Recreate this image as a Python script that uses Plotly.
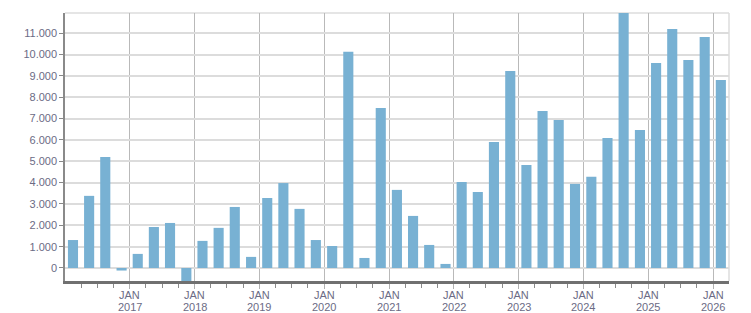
import plotly.graph_objects as go
import pandas as pd

quarters = pd.period_range("2016Q1", "2026Q1", freq="Q")
# bars sit at the middle of each quarter
bar_dates = [(q.start_time + (q.end_time - q.start_time) / 2).strftime("%Y-%m-%d") for q in quarters]

values = [
    1310, 3380, 5200, -120,
    660, 1920, 2110, -700,
    1270, 1880, 2860, 520,
    3280, 3980, 2770, 1310,
    1030, 10130, 470, 7500,
    3660, 2440, 1080, 190,
    4030, 3560, 5910, 9230,
    4830, 7360, 6940, 3940,
    4270, 6090, 12000, 6470,
    9610, 11200, 9750, 10830,
    8810,
]

years = list(range(2017, 2027))
year_ticks = [f"{y}-01-01" for y in years]
quarter_ticks = [q.start_time.strftime("%Y-%m-%d") for q in pd.period_range("2016Q2", "2026Q1", freq="Q")]
y_ticks = list(range(0, 12000, 1000))

fig = go.Figure(go.Bar(
    x=bar_dates, y=values,
    width=57 * 86400000,
    marker=dict(color="#78b1d3", line=dict(width=0)),
))

font_color = "#6b6b85"
annotations = []
for y, d in zip(years, year_ticks):
    annotations.append(dict(x=d, xref="x", y=0, yref="paper", text="JAN", showarrow=False,
                            xanchor="center", yanchor="middle", yshift=-14,
                            font=dict(size=11, color=font_color)))
    annotations.append(dict(x=d, xref="x", y=0, yref="paper", text=str(y), showarrow=False,
                            xanchor="center", yanchor="middle", yshift=-26,
                            font=dict(size=11, color=font_color)))

fig.update_layout(
    width=751, height=313,
    margin=dict(l=65, r=22, t=13, b=32, autoexpand=False),
    paper_bgcolor="white", plot_bgcolor="white",
    separators=",.",
    showlegend=False,
    font=dict(family="Liberation Sans, Arial, sans-serif", size=11, color=font_color),
    annotations=annotations,
    shapes=[
        dict(type="line", xref="paper", yref="paper", x0=0, x1=1, y0=1, y1=1,
             line=dict(color="#dcdcdc", width=1.5), layer="below"),
        dict(type="line", xref="paper", yref="paper", x0=1, x1=1, y0=0, y1=1,
             line=dict(color="#dcdcdc", width=1.5), layer="below"),
    ],
)
fig.update_xaxes(
    type="date",
    automargin=False,
    range=["2016-01-01", "2026-04-01"],
    tickmode="array", tickvals=year_ticks, showticklabels=False,
    showgrid=True, gridcolor="#b9b9b9", gridwidth=1.2,
    ticks="outside", ticklen=5, tickcolor="#b0b0b0",
    showline=True, linecolor="#707070", linewidth=2.5,
    minor=dict(tickmode="array", tickvals=quarter_ticks, ticks="outside", ticklen=4,
               tickcolor="#8a8a8a", showgrid=False),
    zeroline=False,
)
fig.update_yaxes(
    automargin=False,
    range=[-610, 11950],
    tickmode="array", tickvals=y_ticks,
    tickformat=",d",
    showgrid=True, gridcolor="#dcdcdc", gridwidth=1.5,
    ticks="outside", ticklen=4, tickcolor="#888888",
    showline=True, linecolor="#8a8a8a", linewidth=1.5,
    zeroline=False,
    tickfont=dict(size=11, color=font_color),
)

fig.write_html("out.html")
